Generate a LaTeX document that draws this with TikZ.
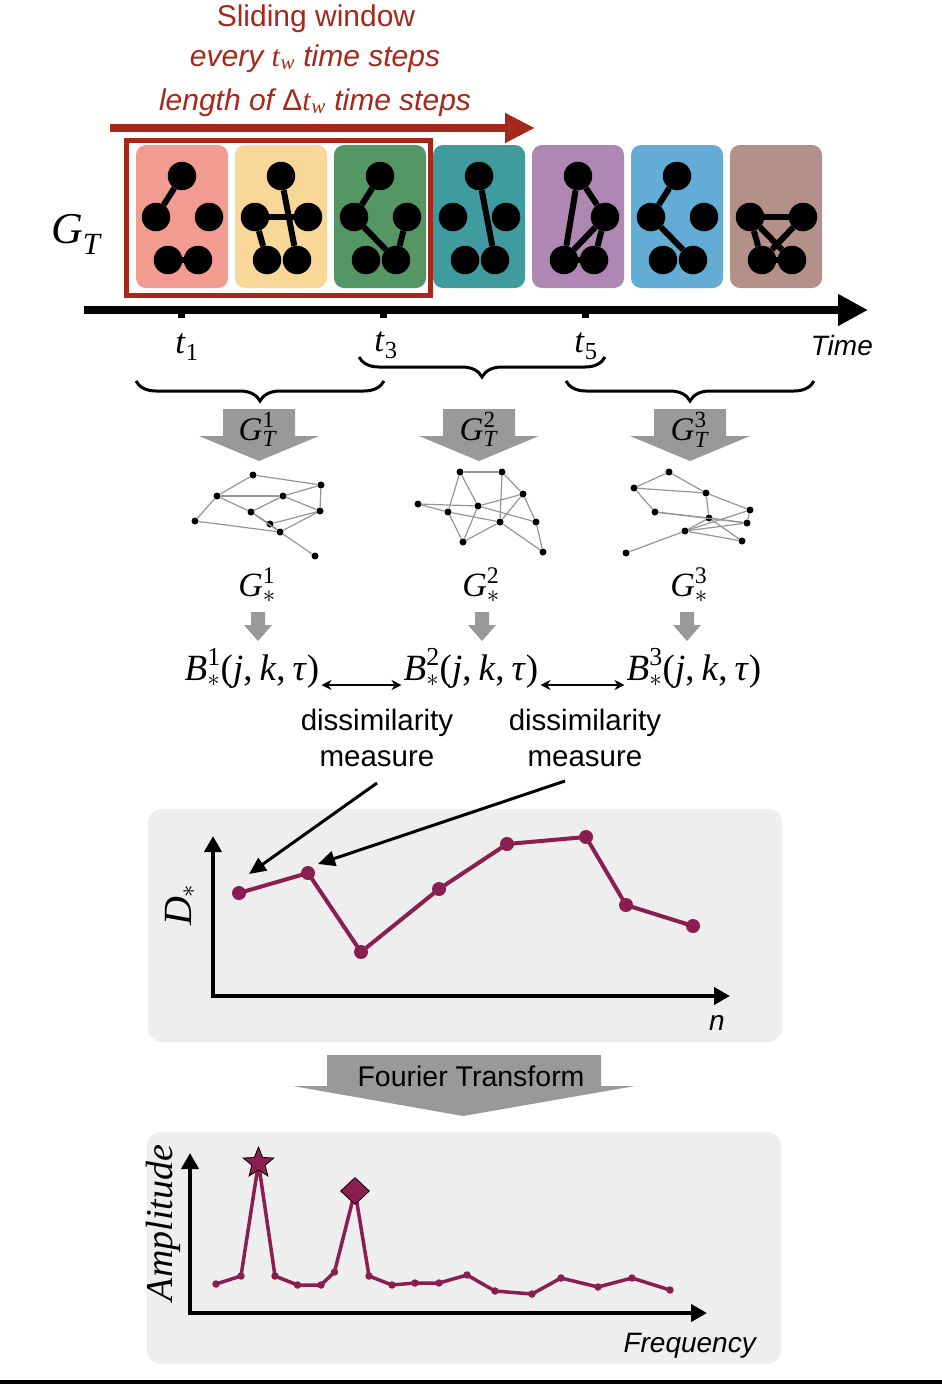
\documentclass[tikz,border=0pt]{standalone}
\usepackage{fontspec}
\usepackage{amsmath}
\setmainfont{Liberation Sans}
\newfontfamily\tms{Liberation Serif}
\usetikzlibrary{arrows.meta,decorations.pathreplacing,shapes.geometric}
\newcommand{\mi}[1]{\text{\tms\itshape #1\/}}
\newcommand{\mr}[1]{\text{\tms #1}}
\newcommand{\fsz}[1]{\fontsize{#1}{#1}\selectfont}
\definecolor{winred}{RGB}{166,40,26}
\definecolor{tcA}{RGB}{242,155,145}
\definecolor{tcB}{RGB}{249,215,152}
\definecolor{tcC}{RGB}{84,150,100}
\definecolor{tcD}{RGB}{64,155,158}
\definecolor{tcE}{RGB}{174,136,178}
\definecolor{tcF}{RGB}{98,172,214}
\definecolor{tcG}{RGB}{179,144,136}
\definecolor{plum}{RGB}{139,30,80}
\definecolor{panelbg}{RGB}{238,238,238}
\definecolor{arrgray}{RGB}{153,153,153}
\definecolor{edgegray}{RGB}{150,150,150}
\tikzset{
  txt/.style={inner sep=0pt, anchor=base},
  tilebg/.style={rounded corners=10pt, minimum width=92pt, minimum height=143pt, inner sep=0pt, draw=none},
  gdot/.style={circle, fill=black, minimum size=28.5pt, inner sep=0pt},
  gedge/.style={line width=6pt, black},
  sdot/.style={circle, fill=black, minimum size=7pt, inner sep=0pt},
  sedge/.style={line width=1.2pt, edgegray},
  panel/.style={fill=panelbg, rounded corners=14pt, draw=none},
  pdot/.style={circle, fill=plum, minimum size=14pt, inner sep=0pt},
  adot/.style={circle, fill=plum, minimum size=7.5pt, inner sep=0pt},
  bracestyle/.style={line width=3pt, decorate, decoration={brace, mirror, amplitude=20pt}},
  darrow/.style={line width=2.4pt, {Stealth[length=10pt,width=10pt]}-{Stealth[length=10pt,width=10pt]}},
  parrow/.style={line width=3pt, -{Triangle[length=17pt,width=15pt]}},
}
\newcommand{\tilebox}[5]{%
  \begin{scope}[shift={(#2,145)}]
    \node[tilebg, fill=#3] (tile#1) at (46,71.5) {};
    \coordinate (c#1T) at (46,31);
    \coordinate (c#1L) at (20,72);
    \coordinate (c#1R) at (73,72);
    \coordinate (c#1BL) at (32,115);
    \coordinate (c#1BR) at (62,115);
    \foreach \p in {#4} {\node[gdot] (n#1\p) at (c#1\p) {};}
    \foreach \a/\b in {#5} {\draw[gedge] (n#1\a) -- (n#1\b);}
  \end{scope}}
\newcommand{\bigarrow}[1]{%
  \begin{scope}[shift={(#1,0)}]
    \fill[arrgray] (-36,409) -- (36,409) -- (36,436) -- (60,436) -- (0,461) -- (-60,436) -- (-36,436) -- cycle;
  \end{scope}}
\newcommand{\smallarrow}[1]{%
  \begin{scope}[shift={(#1,0)}]
    \fill[arrgray] (-7,612) -- (7,612) -- (7,625) -- (14,625) -- (0,641) -- (-14,625) -- (-7,625) -- cycle;
  \end{scope}}
\begin{document}
\begin{tikzpicture}[x=1pt,y=-1pt]
\useasboundingbox (0,0) rectangle (942,1384);
\fill[white] (0,0) rectangle (942,1384);

% header
\node[txt, text=winred] (h1) at (316,26) {\fsz{30}Sliding window};
\node[txt, text=winred] (h2) at (315,66) {\fsz{30}\itshape every $\mi{t}_{\mi{w}}$ time steps};
\node[txt, text=winred] (h3) at (315,110) {\fsz{30}\itshape length of {\upshape Δ}$\mi{t}_{\mi{w}}$ time steps};
\coordinate (ra) at (110,128);
\coordinate (rb) at (535,128);
\draw[winred, line width=8pt, -{Triangle[length=30pt,width=28pt]}] (ra) -- (rb);

% tiles
\tilebox{1}{136}{tcA}{T,L,R,BL,BR}{T/L,BL/BR}
\tilebox{2}{235}{tcB}{T,L,R,BL,BR}{L/R,T/BR,L/BL}
\tilebox{3}{334}{tcC}{T,L,R,BL,BR}{T/L,L/BR,R/BR}
\tilebox{4}{433}{tcD}{T,L,R,BL,BR}{T/BR}
\tilebox{5}{532}{tcE}{T,R,BL,BR}{T/BL,T/R,R/BL,R/BR,BL/BR}
\tilebox{6}{631}{tcF}{T,L,R,BL,BR}{T/L,L/BR}
\tilebox{7}{730}{tcG}{L,R,BL,BR}{L/R,L/BL,L/BR,R/BL,BL/BR}
\draw[winred, line width=5pt] (126.5,140.5) rectangle (430.5,295.5);

\node[txt, anchor=base west] (GT) at (51,243) {\fsz{44}$\mi{G}_{\mi{T}}$};

% time axis
\coordinate (ta) at (84,310);
\coordinate (tb) at (868,310);
\draw[line width=8pt, -{Triangle[length=30pt,width=30pt]}] (ta) -- (tb);
\foreach \x in {181,383,585} {\fill[black] (\x-3.5,313) rectangle (\x+3.5,318);}
\node[txt] (lt1) at (187,353) {\fsz{35}$\mi{t}_{\mr{1}}$};
\node[txt] (lt3) at (386,351) {\fsz{35}$\mi{t}_{\mr{3}}$};
\node[txt] (lt5) at (586,352) {\fsz{35}$\mi{t}_{\mr{5}}$};
\node[txt, anchor=base east] (ltime) at (873,355) {\fsz{28}\itshape Time};

% braces
\draw[bracestyle] (136,381) -- (384,381);
\draw[bracestyle] (359,357) -- (605,357);
\draw[bracestyle] (566,381) -- (814,381);

% big gray arrows
\bigarrow{259}
\bigarrow{479}
\bigarrow{690}
\node[txt] (gt1) at (258,440) {\fsz{33}$\mi{G}^{\mr{1}}_{\mi{T}}$};
\node[txt] (gt2) at (479,440) {\fsz{33}$\mi{G}^{\mr{2}}_{\mi{T}}$};
\node[txt] (gt3) at (690,440) {\fsz{33}$\mi{G}^{\mr{3}}_{\mi{T}}$};

% small graph 1
\foreach \n/\x/\y in {a/253/475,b/321/485,c/217/496,d/283/496,e/251/512,f/320/511,g/195/521,h/270/524,i/280/532,j/315/556}
  {\node[sdot] (ga\n) at (\x,\y) {};}
\foreach \a/\b in {a/b,a/c,c/d,d/b,b/f,c/e,e/d,d/f,e/h,e/i,h/f,i/f,g/c,g/i,h/i,i/j}
  {\draw[sedge] (ga\a) -- (ga\b);}
% small graph 2
\foreach \n/\x/\y in {a/460/472,b/502/472,c/523/494,d/418/504,e/478/506,f/448/512,g/500/522,h/536/522,i/463/542,j/543/552}
  {\node[sdot] (gb\n) at (\x,\y) {};}
\foreach \a/\b in {a/b,a/f,a/e,b/g,b/c,c/e,c/g,c/h,d/e,d/f,e/h,f/g,f/i,i/e,i/g,g/j,h/j}
  {\draw[sedge] (gb\a) -- (gb\b);}
% small graph 3
\foreach \n/\x/\y in {a/669/472,b/634/488,c/706/493,d/750/510,e/655/512,f/709/518,g/747/523,h/685/531,i/742/541,j/626/553}
  {\node[sdot] (gc\n) at (\x,\y) {};}
\foreach \a/\b in {a/b,a/c,b/c,b/e,c/f,c/d,e/f,e/g,f/g,f/i,h/d,h/g,h/i,h/f,d/g,j/h}
  {\draw[sedge] (gc\a) -- (gc\b);}

% G star labels
\node[txt] (gs1) at (257,596) {\fsz{34}$\mi{G}^{\mr{1}}_{\ast}$};
\node[txt] (gs2) at (481,596) {\fsz{34}$\mi{G}^{\mr{2}}_{\ast}$};
\node[txt] (gs3) at (689,596) {\fsz{34}$\mi{G}^{\mr{3}}_{\ast}$};
\smallarrow{258}
\smallarrow{482}
\smallarrow{687}

% B labels
\node[txt, inner xsep=2pt] (B1) at (252,680) {\fsz{37}$\mi{B}^{\mr{1}}_{\ast}\mr{(}\mi{j}\mr{,}\;\mi{k}\mr{,}\;\mi{τ}\mr{)}$};
\node[txt, inner xsep=2pt] (B2) at (471,680) {\fsz{37}$\mi{B}^{\mr{2}}_{\ast}\mr{(}\mi{j}\mr{,}\;\mi{k}\mr{,}\;\mi{τ}\mr{)}$};
\node[txt, inner xsep=2pt] (B3) at (694,680) {\fsz{37}$\mi{B}^{\mr{3}}_{\ast}\mr{(}\mi{j}\mr{,}\;\mi{k}\mr{,}\;\mi{τ}\mr{)}$};
\draw[darrow] ([yshift=-5pt]B1.base east) -- ([yshift=-5pt]B2.base west);
\draw[darrow] ([yshift=-5pt]B2.base east) -- ([yshift=-5pt]B3.base west);

\node[txt] (dm1a) at (377,730) {\fsz{29.5}dissimilarity};
\node[txt] (dm1b) at (377,766) {\fsz{29.5}measure};
\node[txt] (dm2a) at (585,730) {\fsz{29.5}dissimilarity};
\node[txt] (dm2b) at (585,766) {\fsz{29.5}measure};

% D plot
\fill[panel] (148,809) rectangle (782,1042);
\draw[line width=4pt, {Triangle[length=16pt,width=17pt]}-{Triangle[length=16pt,width=17pt]}] (213,836) -- (213,996) -- (730,996);
\node[rotate=90, inner sep=0pt] (Dlab) at (180,905) {\fsz{40}$\mi{D}_{\ast}$};
\node[txt] (nlab) at (717,1030) {\fsz{28}\itshape n};
\foreach \n/\x/\y in {1/239/893,2/308/873,3/361/952,4/439/889,5/507/844,6/586/837,7/626/905,8/693/926}
  {\coordinate (p\n) at (\x,\y);}
\draw[plum, line width=4pt, line join=round] (p1) -- (p2) -- (p3) -- (p4) -- (p5) -- (p6) -- (p7) -- (p8);
\foreach \n in {1,...,8} {\node[pdot] (pd\n) at (p\n) {};}
\coordinate (s1) at (377,783);
\coordinate (q1) at (249,874);
\coordinate (s2) at (565,781);
\coordinate (q2) at (318,864);
\draw[parrow] (s1) -- (q1);
\draw[parrow] (s2) -- (q2);

% Fourier arrow
\fill[arrgray] (327,1055) -- (601,1055) -- (601,1086) -- (635,1086) -- (463,1116) -- (293,1086) -- (327,1086) -- cycle;
\node[txt] (ft) at (471,1086) {\fsz{28.5}Fourier Transform};

% amplitude plot
\fill[panel] (147,1132) rectangle (781,1364);
\draw[line width=4pt, {Triangle[length=16pt,width=17pt]}-{Triangle[length=16pt,width=17pt]}] (190,1153) -- (190,1313) -- (707,1313);
\node[rotate=90, inner sep=0pt] (alab) at (163,1223) {\fsz{38}\tms\itshape Amplitude};
\node[txt, anchor=base east] (flab) at (756,1352) {\fsz{28}\itshape Frequency};
\foreach \n/\x/\y in {1/216/1284,2/241/1276,3/258.5/1163,4/275/1276,5/297.5/1285,6/321/1285,7/334.5/1272,8/355/1191,9/369/1276,10/392/1285,11/415/1283,12/439/1283,13/467/1275,14/495/1291,15/532/1294,16/561/1278,17/598/1287,18/632/1278,19/670/1290}
  {\coordinate (a\n) at (\x,\y);}
\draw[plum, line width=3.5pt, line join=round] (a1) \foreach \n in {2,...,19} { -- (a\n)};
\foreach \n in {1,2,4,5,6,7,9,10,11,12,13,14,15,16,17,18,19} {\node[adot] (ad\n) at (a\n) {};}
\node[star, star points=5, star point ratio=2.3, fill=plum, draw=black, line width=0.8pt, minimum size=32pt, inner sep=0pt] (starm) at (a3) {};
\node[diamond, fill=plum, draw=black, line width=0.8pt, minimum width=29pt, minimum height=27pt, inner sep=0pt] (diam) at (a8) {};

\fill[black] (0,1380) rectangle (942,1384);
\end{tikzpicture}
\end{document}
